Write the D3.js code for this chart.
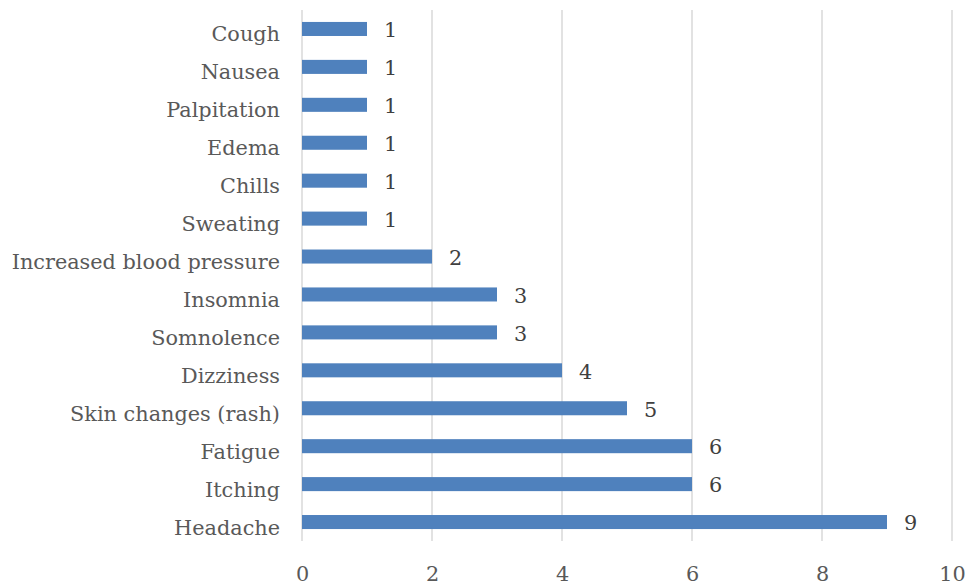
<!DOCTYPE html>
<html>
<head>
<meta charset="utf-8">
<script src="https://cdn.jsdelivr.net/npm/d3@7"></script>
<style>
  html, body { margin: 0; padding: 0; background: #fff; }
  svg text { font-family: "DejaVu Serif", "Liberation Serif", serif; }
</style>
</head>
<body>
<svg id="chart" width="969" height="587"></svg>
<script>
// Adverse effects and number of reports
const symptoms = ["Cough", "Nausea", "Palpitation", "Edema", "Chills", "Sweating",
  "Increased blood pressure", "Insomnia", "Somnolence", "Dizziness",
  "Skin changes (rash)", "Fatigue", "Itching", "Headache"];
const counts = [1, 1, 1, 1, 1, 1, 2, 3, 3, 4, 5, 6, 6, 9];
const xTicks = [0, 2, 4, 6, 8, 10];

const svg = d3.select("#chart");
const margin = { left: 302, right: 17, top: 10, bottom: 46 };
const W = 969, H = 587;
const fontSize = 20.8;

const x = d3.scaleLinear().domain([0, 10]).range([margin.left, W - margin.right]);
const y = d3.scaleBand().domain(symptoms).range([margin.top, H - margin.bottom]).paddingInner(0.63).paddingOuter(0.315);

// vertical gridlines
svg.append("g").selectAll("line").data(xTicks).join("line")
  .attr("x1", d => x(d)).attr("x2", d => x(d))
  .attr("y1", margin.top).attr("y2", H - margin.bottom)
  .attr("stroke", "#d9d9d9").attr("stroke-width", 1.5);

// x tick labels
const xAxis = d3.axisBottom(x).tickValues(xTicks).tickSize(0).tickPadding(0);
const gx = svg.append("g").attr("transform", `translate(0,${H - margin.bottom})`).call(xAxis);
gx.select(".domain").remove();
gx.selectAll("text").attr("dy", null).attr("y", 40)
  .attr("font-size", fontSize).attr("fill", "#595959")
  .style("font-family", "'DejaVu Serif', serif");

// category labels
const yAxis = d3.axisLeft(y).tickSize(0).tickPadding(22);
const gy = svg.append("g").attr("transform", `translate(${margin.left},0)`).call(yAxis);
gy.select(".domain").remove();
gy.selectAll("text").attr("font-size", fontSize).attr("fill", "#595959")
  .style("font-family", "'DejaVu Serif', serif").attr("dy", "0.6em");

// bars
svg.append("g").selectAll("rect").data(symptoms).join("rect")
  .attr("x", x(0))
  .attr("y", d => y(d))
  .attr("width", (d, i) => x(counts[i]) - x(0))
  .attr("height", y.bandwidth())
  .attr("fill", "#4f81bd");

// value labels
svg.append("g").selectAll("text").data(symptoms).join("text")
  .attr("x", (d, i) => x(counts[i]) + 17)
  .attr("y", d => y(d) + y.bandwidth() / 2)
  .attr("dy", "0.4em")
  .attr("font-size", fontSize).attr("fill", "#404040")
  .text((d, i) => counts[i]);
</script>
</body>
</html>
